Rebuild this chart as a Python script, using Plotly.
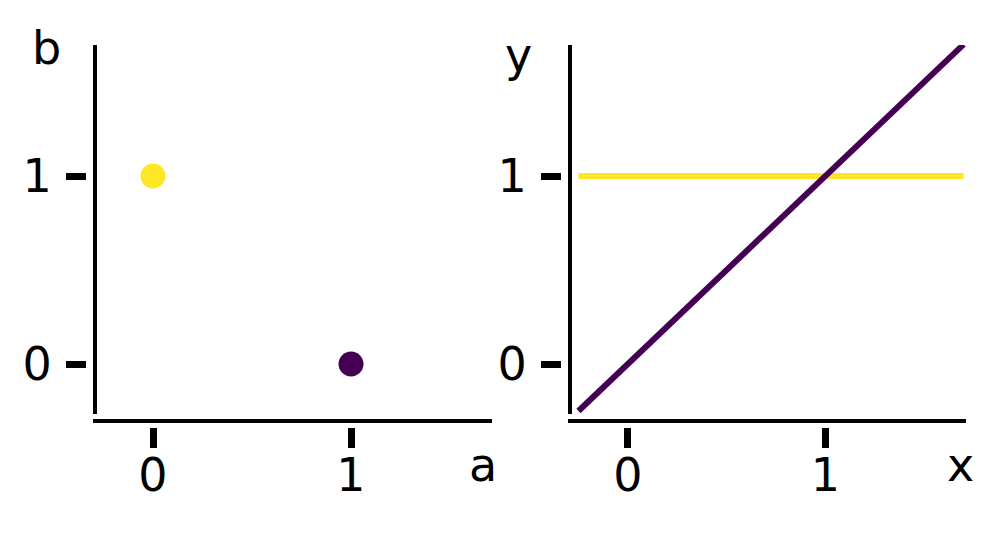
import plotly.graph_objects as go

# data
point_a = [0, 1]
point_b = [1, 0]
point_colors = ["#fde725", "#440154"]
line_x = [-0.25, 1.7]
diag_y = [-0.25, 1.7]
flat_y = [1, 1]
tick_vals = [0, 1]
tick_text = ["0", "1"]

OFF = 8
W, H = 1000 - OFF, 537 - OFF
FONT = "Comic Sans MS, Humor Sans, DejaVu Sans, sans-serif"

def px(x):
    return (x - OFF) / W

def py(y):
    return 1 - (y - OFF) / H

fig = go.Figure()
fig.add_trace(go.Scatter(x=point_a, y=point_b, mode="markers",
                         marker=dict(size=25, color=point_colors),
                         xaxis="x", yaxis="y", showlegend=False))
fig.add_trace(go.Scatter(x=line_x, y=flat_y, mode="lines",
                         line=dict(color="#fde725", width=6),
                         xaxis="x2", yaxis="y2", showlegend=False))
fig.add_trace(go.Scatter(x=line_x, y=diag_y, mode="lines",
                         line=dict(color="#440154", width=6),
                         xaxis="x2", yaxis="y2", showlegend=False))

axis_common = dict(showgrid=False, zeroline=False, showline=False,
                   ticks="outside", ticklen=20, tickwidth=7, tickcolor="black",
                   tickvals=tick_vals, ticktext=tick_text,
                   tickfont=dict(family=FONT, size=46, color="black"))

ydom = [py(427), py(45)]
yr = [-0.335, 1.697]
xr = [-0.3333, 1.712]
fig.update_layout(
    width=W, height=H, margin=dict(l=0, r=0, t=0, b=0),
    plot_bgcolor="white", paper_bgcolor="white",
    xaxis=dict(domain=[px(87), px(492)], range=xr, anchor="y", ticklabelstandoff=-12, **axis_common),
    yaxis=dict(domain=ydom, range=yr, anchor="x", ticklabelstandoff=5, **axis_common),
    xaxis2=dict(domain=[px(562), px(966)], range=xr, anchor="y2", ticklabelstandoff=-12, **axis_common),
    yaxis2=dict(domain=ydom, range=yr, anchor="x2", ticklabelstandoff=5, **axis_common),
)

# spines
for (lx, rx) in [(95, 492), (570, 966)]:
    fig.add_shape(type="line", xref="paper", yref="paper",
                  x0=px(lx), x1=px(lx), y0=py(45), y1=py(414),
                  line=dict(color="black", width=4))
    fig.add_shape(type="line", xref="paper", yref="paper",
                  x0=px(lx - 2), x1=px(rx), y0=py(421), y1=py(421),
                  line=dict(color="black", width=4))

# axis labels
for txt, x, y in [("b", 46, 48), ("a", 483, 465), ("y", 518, 55), ("x", 960, 465)]:
    fig.add_annotation(text=txt, x=px(x), y=py(y), xref="paper", yref="paper",
                       showarrow=False, xanchor="center", yanchor="middle",
                       font=dict(family=FONT, size=46, color="black"))

fig.write_html("out.html")
